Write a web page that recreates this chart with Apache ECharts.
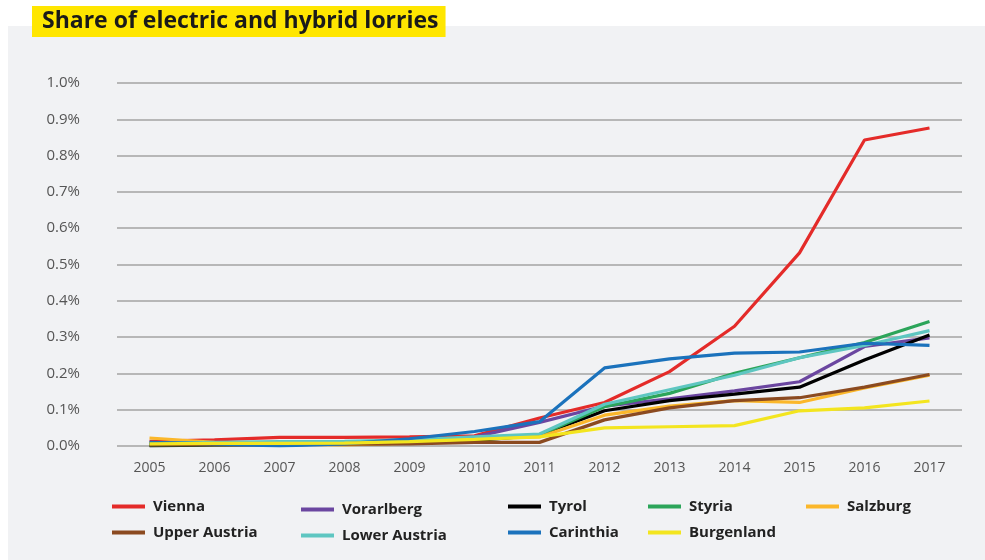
<!DOCTYPE html>
<html>
<head>
<meta charset="utf-8">
<script src="https://cdn.jsdelivr.net/npm/echarts@6/dist/echarts.min.js"></script>
<style>
html,body{margin:0;padding:0;background:#fff;}
#chart{width:985px;height:560px;}
</style>
</head>
<body>
<div id="chart"></div>
<script>
/* data, share in % */
const years=["2005","2006","2007","2008","2009","2010","2011","2012","2013","2014","2015","2016","2017"];

const vienna=[0.013,0.017,0.024,0.024,0.025,0.028,0.077,0.12,0.205,0.33,0.532,0.843,0.876];
const vorarlberg=[0.005,0.005,0.006,0.008,0.012,0.025,0.065,0.11,0.13,0.152,0.177,0.274,0.298];
const tyrol=[0.0,0.003,0.004,0.005,0.008,0.015,0.03,0.097,0.125,0.143,0.162,0.237,0.306];
const styria=[0.003,0.004,0.005,0.006,0.01,0.02,0.03,0.108,0.145,0.2,0.243,0.285,0.343];
const salzburg=[0.022,0.01,0.006,0.003,0.008,0.02,0.025,0.085,0.11,0.125,0.12,0.16,0.195];
const upperAustria=[0.003,0.004,0.005,0.005,0.006,0.01,0.01,0.072,0.105,0.125,0.133,0.162,0.197];
const lowerAustria=[0.008,0.01,0.012,0.013,0.017,0.025,0.033,0.115,0.155,0.195,0.243,0.277,0.318];
const carinthia=[0.01,0.006,0.0,0.006,0.02,0.04,0.067,0.215,0.24,0.256,0.259,0.283,0.277];
const burgenland=[0.006,0.007,0.007,0.008,0.012,0.018,0.025,0.05,0.053,0.056,0.097,0.105,0.124];

const seriesList=[
 ["Vienna",vienna,"#e42b29"],
 ["Vorarlberg",vorarlberg,"#6b46a0"],
 ["Tyrol",tyrol,"#000000"],
 ["Styria",styria,"#2ca55a"],
 ["Salzburg",salzburg,"#fbb72a"],
 ["Upper Austria",upperAustria,"#8b4a20"],
 ["Lower Austria",lowerAustria,"#5ec6c1"],
 ["Carinthia",carinthia,"#1b72bc"],
 ["Burgenland",burgenland,"#f3e51f"]
];

// legend slots [left, top]
const legendPos={
 "Vienna":[112,499],
 "Vorarlberg":[301,502],
 "Tyrol":[508,499],
 "Styria":[648,499],
 "Salzburg":[806,499],
 "Upper Austria":[112,525],
 "Lower Austria":[301,528],
 "Carinthia":[508,525],
 "Burgenland":[648,525]
};

const FONT="Open Sans";

let chart=echarts.init(document.getElementById("chart"));

let legends=seriesList.map(s=>({
 data:[s[0]],
 left:legendPos[s[0]][0],
 top:legendPos[s[0]][1],
 icon:"rect",
 itemWidth:33,
 itemHeight:4,
 itemGap:10,
 padding:0,
 selectedMode:false,
 textStyle:{fontFamily:FONT,fontWeight:"bold",fontSize:15,color:"#222",padding:[0,0,0,3]}
}));

chart.setOption({
 backgroundColor:"#ffffff",
 animation:false,
 graphic:[{
  type:"rect",
  z:-10,
  shape:{x:8,y:26,width:977,height:534},
  style:{fill:"#f1f2f4"}
 }],
 title:{
  text:"Share of electric and hybrid lorries",
  left:32,
  top:6,
  padding:[3,7,3,10],
  backgroundColor:"#ffe600",
  textStyle:{fontFamily:FONT,fontWeight:"bold",fontSize:23,color:"#1a1a1a",lineHeight:25}
 },
 legend:legends,
 grid:{left:117,right:23,top:83,bottom:114},
 xAxis:{
  type:"category",
  data:years,
  boundaryGap:true,
  axisLine:{show:false},
  axisTick:{show:false},
  axisLabel:{fontFamily:FONT,fontSize:14,color:"#555",margin:15}
 },
 yAxis:{
  type:"value",
  min:0,
  max:1,
  interval:0.1,
  axisLine:{show:false},
  axisTick:{show:false},
  axisLabel:{
   fontFamily:FONT,fontSize:15,color:"#555",margin:37,
   formatter:v=>v.toFixed(1)+"%"
  },
  splitLine:{lineStyle:{color:"#a3a3a3",width:1.5}}
 },
 series:seriesList.map(s=>({
  name:s[0],
  type:"line",
  data:s[1],
  symbol:"none",
  color:s[2],
  lineStyle:{width:3.2,color:s[2]}
 }))
});
</script>
</body>
</html>
